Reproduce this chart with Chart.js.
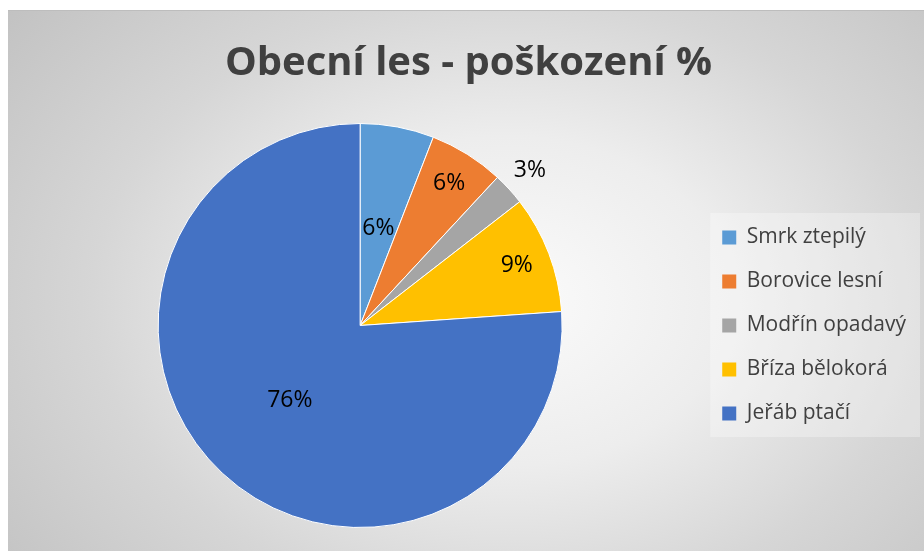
<!DOCTYPE html>
<html>
<head>
<meta charset="utf-8">
<script src="https://cdn.jsdelivr.net/npm/chart.js@4.4.0/dist/chart.umd.min.js"></script>
<style>
  html, body { margin: 0; padding: 0; background: #ffffff; }
  #wrap {
    position: absolute; left: 8px; top: 10px; width: 916px; height: 541px;
    box-sizing: border-box;
    border-top: 1px solid #bdbdbd;
    background: radial-gradient(ellipse 640px 470px at 500px 290px, #fbfbfb 0%, #ededed 35%, #d6d6d6 65%, #c2c2c2 100%);
  }
</style>
</head>
<body>
<div id="wrap"><canvas id="pieChart"></canvas></div>
<script>
const categories = ['Smrk ztepilý', 'Borovice lesní', 'Modřín opadavý', 'Bříza bělokorá', 'Jeřáb ptačí'];
const damage = [5.9, 6.0, 2.6, 9.4, 76.1];
const sliceColors = ['#5B9BD5', '#ED7D31', '#A5A5A5', '#FFC000', '#4472C4'];

// where each percent label sits, as a share of the radius
const labelRadius = [0.49, 0.83, 1.14, 0.83, 0.51];

const pieLabels = {
    id: 'pieLabels',
    afterDatasetsDraw(chart) {
        const ctx = chart.ctx;
        const meta = chart.getDatasetMeta(0);
        const values = chart.data.datasets[0].data;
        const total = values.reduce((a, b) => a + b, 0);
        ctx.save();
        ctx.font = '23px "Open Sans"';
        ctx.fillStyle = '#000000';
        ctx.textAlign = 'center';
        ctx.textBaseline = 'middle';
        meta.data.forEach((arc, i) => {
            const p = arc.getProps(['x', 'y', 'startAngle', 'endAngle', 'outerRadius'], true);
            const mid = (p.startAngle + p.endAngle) / 2;
            const r = p.outerRadius * labelRadius[i];
            ctx.fillText(Math.round(values[i] / total * 100) + '%', p.x + Math.cos(mid) * r, p.y + Math.sin(mid) * r);
        });
        ctx.restore();
    }
};

const legendBox = {
    id: 'legendBox',
    beforeDraw(chart) {
        const boxes = chart.legend.legendHitBoxes;
        if (!boxes || !boxes.length) return;
        const left = Math.min(...boxes.map(b => b.left)) - 12;
        const right = Math.max(...boxes.map(b => b.left + b.width)) + 14;
        const top = Math.min(...boxes.map(b => b.top)) - 14;
        const bottom = Math.max(...boxes.map(b => b.top + b.height)) + 13;
        const ctx = chart.ctx;
        ctx.save();
        ctx.fillStyle = 'rgba(255,255,255,0.3)';
        ctx.fillRect(left, top, right - left, bottom - top);
        ctx.restore();
    }
};

const baseLabels = Chart.overrides.doughnut.plugins.legend.labels.generateLabels;

new Chart(document.getElementById('pieChart').getContext('2d'), {
    type: 'pie',
    data: {
        labels: categories,
        datasets: [{
            data: damage,
            backgroundColor: sliceColors,
            borderColor: '#ffffff',
            borderWidth: 1
        }]
    },
    options: {
        responsive: true,
        maintainAspectRatio: false,
        animation: false,
        layout: {
            padding: { left: 13, right: 8, top: 0, bottom: 23 }
        },
        plugins: {
            tooltip: { enabled: false },
            title: {
                display: true,
                text: 'Obecní les - poškození %',
                color: '#404040',
                font: { family: 'Open Sans', size: 40, weight: 'bold' },
                padding: { top: 29, bottom: 35 }
            },
            legend: {
                position: 'right',
                fullSize: false,
                labels: {
                    color: '#404040',
                    font: { family: 'Open Sans', size: 21 },
                    boxWidth: 14,
                    boxHeight: 14,
                    padding: 23,
                    generateLabels(chart) {
                        return baseLabels(chart).map(item => Object.assign(item, { lineWidth: 0 }));
                    }
                }
            }
        }
    },
    plugins: [legendBox, pieLabels]
});
</script>
</body>
</html>
